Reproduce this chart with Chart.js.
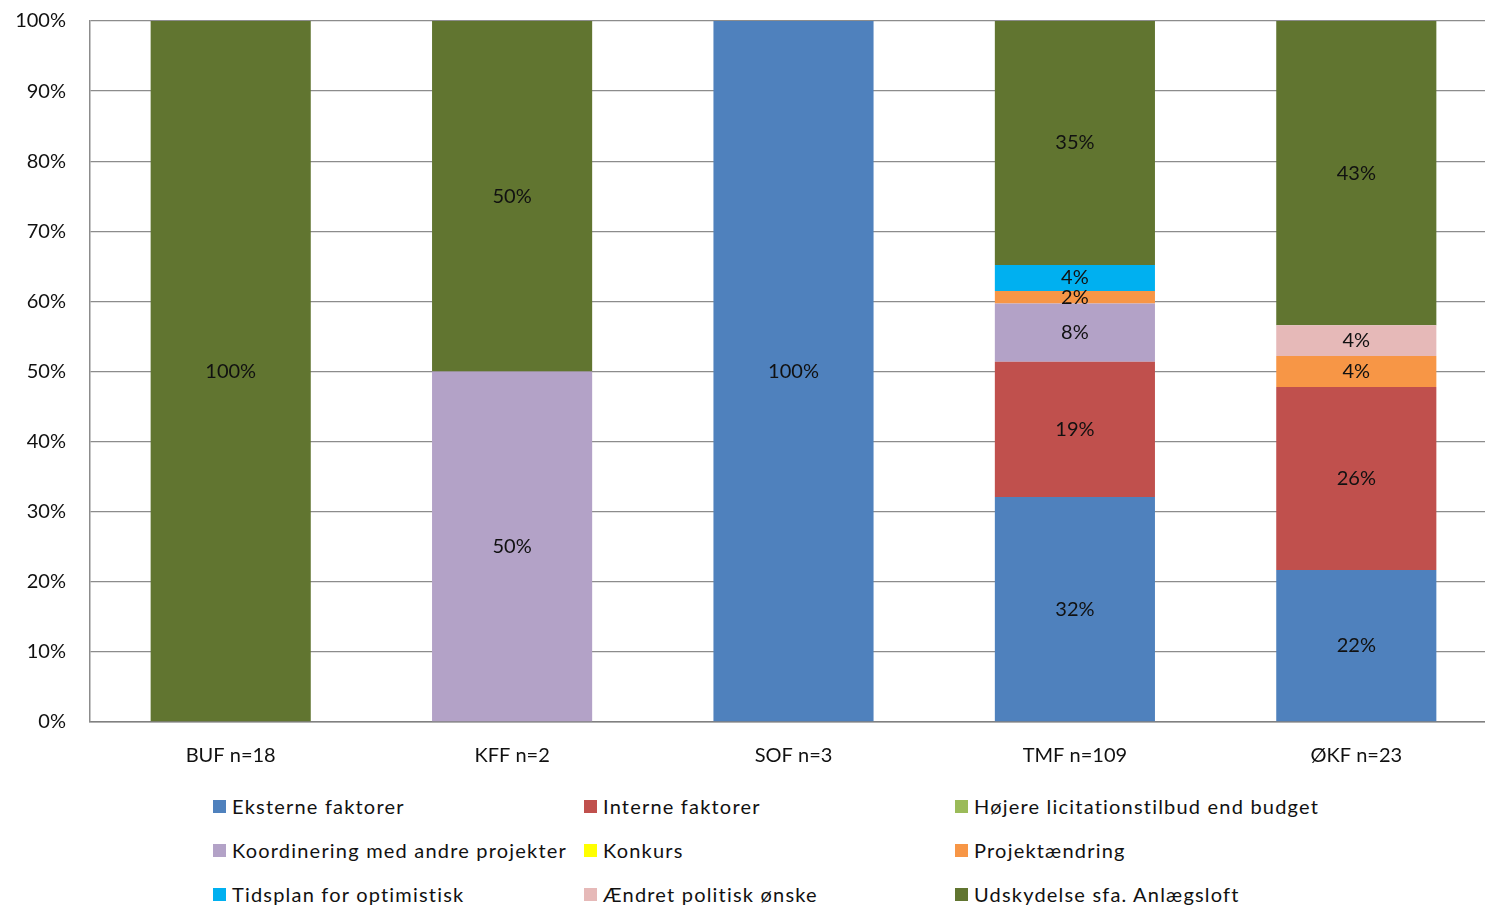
<!DOCTYPE html>
<html>
<head>
<meta charset="utf-8">
<script src="https://cdn.jsdelivr.net/npm/chart.js@4/dist/chart.umd.min.js"></script>
<style>
  html, body { margin: 0; padding: 0; background: #fff; overflow: hidden; }
  #wrap { position: relative; width: 1485px; height: 906px; overflow: hidden; font-family: Lato, "Noto Sans", sans-serif; }
  #box { position: absolute; left: 0; top: -15px; width: 1497px; height: 795px; }
  #legend { position: absolute; left: 213px; top: 792px; display: grid; grid-template-columns: 371px 371px 400px; row-gap: 16px; }
  .item { display: flex; align-items: center; height: 28px; font-size: 20px; color: #111; letter-spacing: 1.2px; white-space: nowrap; }
  .sw { width: 13px; height: 13px; margin-right: 6px; }
</style>
</head>
<body>
<div id="wrap">
  <div id="box"><canvas id="chart"></canvas></div>
  <div id="legend"></div>
</div>
<script>
// categories (enheder)
const categories = ['BUF n=18', 'KFF n=2', 'SOF n=3', 'TMF n=109', 'ØKF n=23'];

// andel i procent pr. årsag, samme rækkefølge som categories
const eksterne      = [0, 0, 100, 32.1, 21.7];
const interne       = [0, 0, 0, 19.3, 26.1];
const hoejere       = [0, 0, 0, 0, 0];
const koordinering  = [0, 50, 0, 8.3, 0];
const konkurs       = [0, 0, 0, 0, 0];
const projekt       = [0, 0, 0, 1.8, 4.4];
const tidsplan      = [0, 0, 0, 3.7, 0];
const politisk      = [0, 0, 0, 0, 4.4];
const udskydelse    = [100, 50, 0, 34.8, 43.4];

const yTicks = [0, 10, 20, 30, 40, 50, 60, 70, 80, 90, 100];

const series = [
  { label: 'Eksterne faktorer', data: eksterne, color: '#4F81BD' },
  { label: 'Interne faktorer', data: interne, color: '#C0504D' },
  { label: 'Højere licitationstilbud end budget', data: hoejere, color: '#9BBB59' },
  { label: 'Koordinering med andre projekter', data: koordinering, color: '#B3A2C7' },
  { label: 'Konkurs', data: konkurs, color: '#FFFF00' },
  { label: 'Projektændring', data: projekt, color: '#F79646' },
  { label: 'Tidsplan for optimistisk', data: tidsplan, color: '#00B0F0' },
  { label: 'Ændret politisk ønske', data: politisk, color: '#E6B9B8' },
  { label: 'Udskydelse sfa. Anlægsloft', data: udskydelse, color: '#617530' }
];

const FONT = 'Lato, "Noto Sans", sans-serif';

// procent-tekst midt i hvert segment
const segmentLabels = {
  id: 'segmentLabels',
  afterDatasetsDraw(chart) {
    const ctx = chart.ctx;
    ctx.save();
    ctx.font = '20px ' + FONT;
    ctx.fillStyle = '#111';
    ctx.textAlign = 'center';
    ctx.textBaseline = 'middle';
    chart.data.datasets.forEach((ds, i) => {
      const meta = chart.getDatasetMeta(i);
      meta.data.forEach((bar, j) => {
        const v = ds.data[j];
        if (!v) return;
        const mid = (bar.y + bar.base) / 2;
        ctx.fillText(Math.round(v) + '%', bar.x, mid);
      });
    });
    ctx.restore();
  }
};

new Chart(document.getElementById('chart'), {
  type: 'bar',
  data: {
    labels: categories,
    datasets: series.map(s => ({
      label: s.label,
      data: s.data.map(v => v === 0 ? null : v),
      backgroundColor: s.color,
      borderWidth: 0,
      categoryPercentage: 1,
      barPercentage: 0.569
    }))
  },
  options: {
    responsive: true,
    maintainAspectRatio: false,
    animation: false,
    layout: { padding: { top: 5, right: 0, left: 0, bottom: 0 } },
    plugins: { legend: { display: false }, tooltip: { enabled: false } },
    scales: {
      x: {
        stacked: true,
        grid: { display: false, drawTicks: false },
        border: { color: '#808080', width: 1.5 },
        ticks: { font: { family: FONT, size: 20 }, color: '#111', padding: 22 },
        afterFit(axis) { axis.height = 58; }
      },
      y: {
        stacked: true,
        min: 0,
        max: 100,
        afterBuildTicks(axis) { axis.ticks = yTicks.map(v => ({ value: v })); },
        grid: { color: '#8c8c8c', lineWidth: 1.3, drawTicks: false },
        border: { color: '#8c8c8c', width: 1.5 },
        ticks: {
          font: { family: FONT, size: 20 },
          color: '#111',
          padding: 24,
          callback: v => v + '%'
        },
        afterFit(axis) { axis.width = 90; }
      }
    }
  },
  plugins: [segmentLabels]
});

// forklaring i tre kolonner
const legend = document.getElementById('legend');
series.forEach(s => {
  const el = document.createElement('div');
  el.className = 'item';
  el.innerHTML = '<span class="sw" style="background:' + s.color + '"></span>' + s.label;
  legend.appendChild(el);
});
</script>
</body>
</html>
